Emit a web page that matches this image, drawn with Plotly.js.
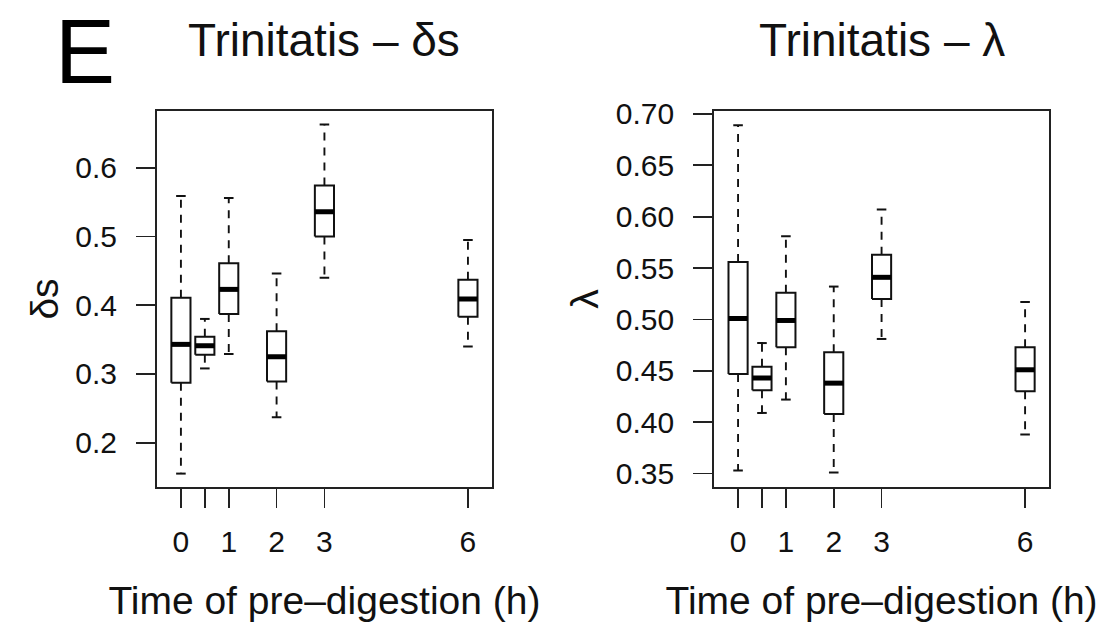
<!DOCTYPE html>
<html>
<head>
<meta charset="utf-8">
<script src="https://cdn.plot.ly/plotly-3.0.1.min.js"></script>
<style>html,body{margin:0;padding:0;background:#fff;}#chart{width:1113px;height:637px;}</style>
</head>
<body>
<div id="chart"></div>
<script>
// ---- Data ----
const times = [0, 0.5, 1, 2, 3, 6];
const timeTickLabels = ['0', '', '1', '2', '3', '6'];

// Trinitatis – δs
const dsLowerWhisker = [0.155, 0.308, 0.329, 0.237, 0.440, 0.340];
const dsQ1           = [0.287, 0.328, 0.387, 0.289, 0.500, 0.383];
const dsMedian       = [0.343, 0.341, 0.423, 0.325, 0.536, 0.409];
const dsQ3           = [0.411, 0.354, 0.461, 0.362, 0.574, 0.437];
const dsUpperWhisker = [0.559, 0.380, 0.556, 0.446, 0.663, 0.495];
const dsTicks = [0.2, 0.3, 0.4, 0.5, 0.6];

// Trinitatis – λ
const lamLowerWhisker = [0.353, 0.409, 0.422, 0.351, 0.481, 0.388];
const lamQ1           = [0.447, 0.431, 0.473, 0.408, 0.520, 0.430];
const lamMedian       = [0.501, 0.443, 0.499, 0.438, 0.541, 0.451];
const lamQ3           = [0.556, 0.454, 0.526, 0.468, 0.563, 0.473];
const lamUpperWhisker = [0.689, 0.477, 0.581, 0.532, 0.607, 0.517];
const lamTicks = [0.35, 0.40, 0.45, 0.50, 0.55, 0.60, 0.65, 0.70];

// ---- Build R-style boxplot traces ----
const BOX_HALF = 0.2, CAP_HALF = 0.1;
function boxTraces(xa, ya, xs, lo, q1, med, q3, hi, name) {
  const rx = [], ry = [], mx = [], my = [], wx = [], wy = [], cx = [], cy = [];
  xs.forEach((x, i) => {
    rx.push(x - BOX_HALF, x + BOX_HALF, x + BOX_HALF, x - BOX_HALF, x - BOX_HALF, null);
    ry.push(q1[i], q1[i], q3[i], q3[i], q1[i], null);
    mx.push(x - BOX_HALF, x + BOX_HALF, null);
    my.push(med[i], med[i], null);
    wx.push(x, x, null, x, x, null);
    wy.push(q3[i], hi[i], null, q1[i], lo[i], null);
    cx.push(x - CAP_HALF, x + CAP_HALF, null, x - CAP_HALF, x + CAP_HALF, null);
    cy.push(hi[i], hi[i], null, lo[i], lo[i], null);
  });
  const base = {type: 'scatter', mode: 'lines', xaxis: xa, yaxis: ya, showlegend: false, hoverinfo: 'skip'};
  return [
    Object.assign({}, base, {name: name + ' whiskers', x: wx, y: wy, line: {color: '#111', width: 1.9, dash: '8px,7px'}}),
    Object.assign({}, base, {name: name + ' caps', x: cx, y: cy, line: {color: '#111', width: 2}}),
    Object.assign({}, base, {name: name + ' boxes', x: rx, y: ry, line: {color: '#111', width: 2}}),
    Object.assign({}, base, {name: name + ' medians', x: mx, y: my, line: {color: '#000', width: 5}})
  ];
}

const data = [].concat(
  boxTraces('x', 'y', times, dsLowerWhisker, dsQ1, dsMedian, dsQ3, dsUpperWhisker, 'δs'),
  boxTraces('x2', 'y2', times, lamLowerWhisker, lamQ1, lamMedian, lamQ3, lamUpperWhisker, 'λ')
);

const FONT = 'Liberation Sans, Arial, Helvetica, sans-serif';
const TICKFONT = {family: FONT, size: 30, color: '#111'};
const TITLEFONT = {family: FONT, size: 39, color: '#111'};

function xAxis(domain, anchor) {
  return {
    domain: domain, anchor: anchor, range: [-0.5, 6.5],
    tickmode: 'array', tickvals: times, ticktext: timeTickLabels,
    ticks: 'outside', ticklen: 19, tickwidth: 1.8, tickcolor: '#222',
    showline: true, mirror: true, linecolor: '#222', linewidth: 2,
    showgrid: false, zeroline: false, tickfont: TICKFONT, ticklabelstandoff: 8,
    title: {text: 'Time of pre–digestion (h)', font: TITLEFONT, standoff: 30}
  };
}
function yAxis(range, ticks, fmt, title, anchor) {
  return {
    anchor: anchor, domain: [0, 1], range: range,
    tickmode: 'array', tickvals: ticks, tickformat: fmt,
    ticks: 'outside', ticklen: 19, tickwidth: 1.8, tickcolor: '#222',
    showline: true, mirror: true, linecolor: '#222', linewidth: 2,
    showgrid: false, zeroline: false, tickfont: TICKFONT, ticklabelstandoff: 13,
    title: {text: title, font: TITLEFONT, standoff: 5}
  };
}

const layout = {
  width: 1113, height: 637,
  margin: {l: 157, r: 64, t: 111, b: 150},
  paper_bgcolor: '#fff', plot_bgcolor: '#fff',
  font: {family: FONT, color: '#111'},
  xaxis: xAxis([0, 0.3754], 'y'),
  yaxis: yAxis([0.1355, 0.6825], dsTicks, '.1f', 'δs', 'x'),
  xaxis2: xAxis([0.6246, 1], 'y2'),
  yaxis2: yAxis([0.3369, 0.7029], lamTicks, '.2f', 'λ', 'x2'),
  annotations: [
    {text: 'Trinitatis – δs', xref: 'x domain', yref: 'paper', x: 0.5, y: 1.19,
     xanchor: 'center', yanchor: 'middle', showarrow: false, font: {family: FONT, size: 46, color: '#111'}},
    {text: 'Trinitatis – λ', xref: 'x2 domain', yref: 'paper', x: 0.5, y: 1.19,
     xanchor: 'center', yanchor: 'middle', showarrow: false, font: {family: FONT, size: 46, color: '#111'}},
    {text: 'E', xref: 'paper', yref: 'paper', x: -0.081, y: 1.293,
     xanchor: 'center', yanchor: 'top', showarrow: false, borderpad: 0,
     font: {family: FONT, size: 90, color: '#000'}}
  ]
};

Plotly.newPlot('chart', data, layout, {displayModeBar: false, staticPlot: true});
</script>
</body>
</html>
